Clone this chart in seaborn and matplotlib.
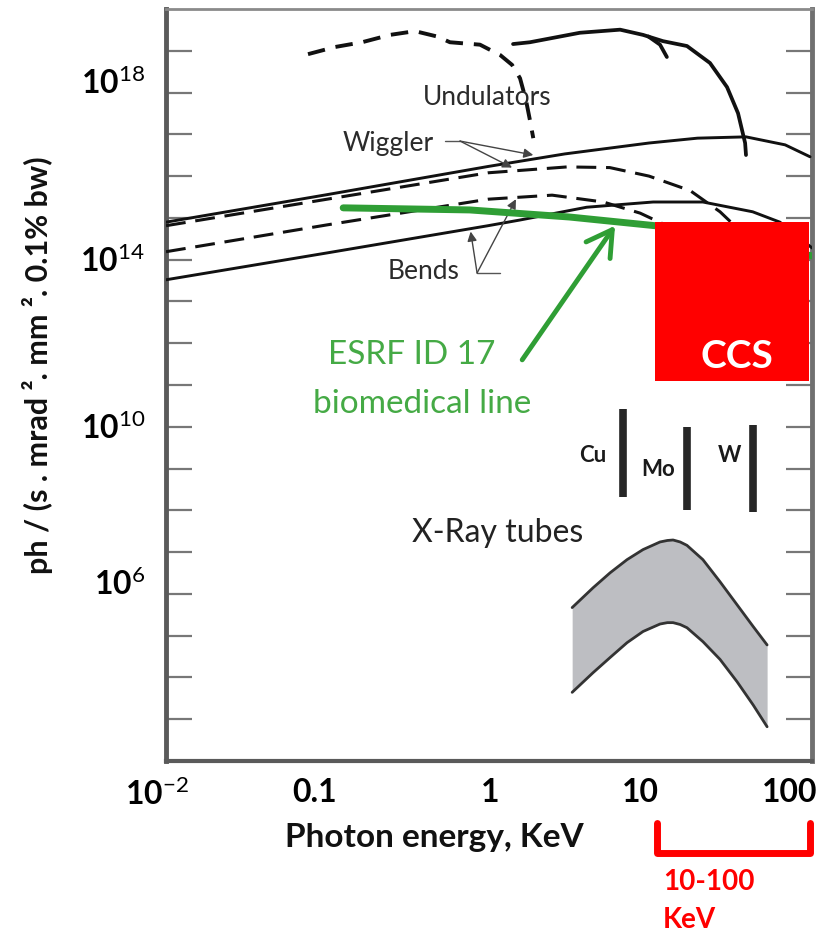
import numpy as np
import pandas as pd
import matplotlib
matplotlib.use("Agg")
import matplotlib.pyplot as plt
import matplotlib.transforms as mtransforms
from matplotlib.patches import Rectangle
from matplotlib.lines import Line2D
from matplotlib.ticker import NullLocator, LogLocator, NullFormatter
import seaborn as sns

# ---------------- spectral brightness curves (photon energy in keV) ----------------
undulator_energy = [1.43, 1.82, 3.72, 6.61, 9.18, 12.2, 17.2, 23.9, 30.5, 35.7, 39.5, 40.0]
undulator_flux = [1.45e19, 1.6e19, 2.7e19, 3.2e19, 2.4e19, 1.7e19, 1.3e19, 5.1e18,
                  1.35e18, 3.2e17, 6.2e16, 3.2e16]

undulator_branch_energy = [9.9, 11.7, 12.9]
undulator_branch_flux = [2.2e19, 1.4e19, 7.1e18]

undulator_low_energy = [0.0762, 0.112, 0.165, 0.246, 0.352, 0.482, 0.580, 0.891,
                        1.19, 1.41, 1.58, 1.72, 1.82, 1.91]
undulator_low_flux = [8.3e18, 1.23e19, 1.6e19, 2.4e19, 2.95e19, 2.2e19, 1.6e19, 1.4e19,
                      7.9e18, 4.6e18, 2.2e18, 6.6e17, 2.2e17, 8.1e16]

wiggler_energy = [0.01, 0.1, 1, 3, 10, 20, 40, 70, 100]
wiggler_flux = [7.9e14, 3.6e15, 1.7e16, 3.4e16, 6.2e16, 8.1e16, 8.7e16, 5.6e16, 2.9e16]

wiggler_low_energy = [0.01, 0.1, 1, 3.1, 5.7, 10, 18, 27.6, 42]
wiggler_low_flux = [6.5e14, 2.8e15, 1.2e16, 1.66e16, 1.6e16, 1.0e16, 4.5e15, 1.4e15, 3.0e14]

bend_energy = [0.01, 0.1, 1, 1.58, 4.1, 10.6, 21.6, 44, 65, 103]
bend_flux = [3.3e13, 1.45e14, 6.5e14, 8.9e14, 1.8e15, 2.4e15, 2.4e15, 1.4e15, 7.9e14, 1.9e14]

bend_low_energy = [0.01, 0.1, 1, 2.5, 5.2, 8.8, 12.6]
bend_low_flux = [1.55e14, 6.8e14, 2.8e15, 3.5e15, 2.4e15, 1.3e15, 6.8e14]

esrf_energy = [0.126, 0.77, 3.2, 10.9, 103]
esrf_flux = [1.74e15, 1.55e15, 1.05e15, 6.5e14, 1.23e14]

# X-ray tube continuum band
tube_energy = [3.33, 4.49, 5.73, 7.30, 9.18, 11.7, 13.0, 14.1, 15.6, 17.2, 21.6, 27.6,
               35.2, 44.3, 54.1]
tube_upper = [4.7e5, 1.4e6, 3.2e6, 6.6e6, 1.15e7, 1.75e7, 1.9e7, 1.95e7, 1.75e7, 1.45e7,
              6.6e6, 1.95e6, 5.5e5, 1.66e5, 6.0e4]
tube_lower = [4.4e3, 1.3e4, 3.0e4, 6.8e4, 1.26e5, 1.9e5, 2.05e5, 2.05e5, 1.85e5, 1.55e5,
              7.2e4, 2.7e4, 7.9e3, 2.2e3, 6.6e2]

# characteristic lines of tube anodes
anode_names = ["Cu", "Mo", "W"]
anode_energy = [6.9, 17.2, 44.3]
anode_flux_low = [2.1e8, 1.0e8, 9.3e7]
anode_flux_high = [2.6e10, 1.0e10, 1.1e10]

# compact Compton source region
ccs_energy_range = (10.9, 98.6)
ccs_flux_range = (1.26e11, 7.9e14)

# axis ticks
x_tick_values = [0.01, 0.1, 1, 10, 100]
x_tick_labels = [r"$\mathbf{10}^{-2}$", "0.1", "1", "10", "100"]
y_tick_values = [10.0 ** k for k in range(3, 20)]
y_labelled = {18: r"$\mathbf{10}^{18}$", 14: r"$\mathbf{10}^{14}$",
              10: r"$\mathbf{10}^{10}$", 6: r"$\mathbf{10}^{6}$"}

# ---------------- style ----------------
sns.set_style("white")
plt.rcParams["font.family"] = ["Lato", "DejaVu Sans"]
plt.rcParams["mathtext.fontset"] = "custom"
plt.rcParams["mathtext.rm"] = "Lato"
plt.rcParams["mathtext.bf"] = "Lato:bold"
plt.rcParams["mathtext.it"] = "Lato:italic"

fig = plt.figure(figsize=(8.26, 9.33), dpi=100)
ax = fig.add_axes([166 / 826, 1 - 761 / 933, (812 - 166) / 826, (761 - 9) / 933])
ax.set_xscale("log")
ax.set_yscale("log")
ax.set_xlim(0.01, 10 ** 2.012)
ax.set_ylim(1e2, 1e20)

black = "#111111"
dash = (0, (6.5, 3.2))


def curve(x, y, lw, ls="-", color=black, z=3):
    df = pd.DataFrame({"E": x, "F": y})
    sns.lineplot(data=df, x="E", y="F", ax=ax, sort=False, estimator=None,
                 color=color, lw=lw, linestyle=ls, zorder=z)


curve(undulator_energy, undulator_flux, 2.7)
curve(undulator_branch_energy, undulator_branch_flux, 2.7)
curve(undulator_low_energy, undulator_low_flux, 2.8, ls=(0, (4.5, 2.8)))
curve(wiggler_energy, wiggler_flux, 2.1)
curve(wiggler_low_energy, wiggler_low_flux, 2.2, ls=dash)
curve(bend_energy, bend_flux, 2.1)
curve(bend_low_energy, bend_low_flux, 2.2, ls=dash)
curve(esrf_energy, esrf_flux, 5.0, color="#2f9e35", z=4)

# X-ray tube band
ax.fill_between(tube_energy, tube_lower, tube_upper, color="#bdbec2", lw=0, zorder=2)
curve(tube_energy, tube_upper, 2.0, color="#333333")
curve(tube_energy, tube_lower, 2.0, color="#333333")

# anode lines
ax.vlines(anode_energy, anode_flux_low, anode_flux_high, color="#262626", lw=5.5, zorder=3)
for name, e, y, dx in zip(anode_names, anode_energy, [2.1e9, 9.3e8, 2.1e9], [4.49, 11.4, 31.8]):
    ax.text(dx, y, name, fontsize=16, fontweight="bold", color="#1a1a1a",
            ha="center", va="center")

# CCS box
ax.add_patch(Rectangle((ccs_energy_range[0], ccs_flux_range[0]),
                       ccs_energy_range[1] - ccs_energy_range[0],
                       ccs_flux_range[1] - ccs_flux_range[0],
                       facecolor="#ff0000", edgecolor="none", zorder=6))
ax.text(35.2, 4.7e11, "CCS", color="white", fontsize=28, fontweight="bold",
        ha="center", va="center", zorder=7)

# source labels and pointers
label_color = "#2b2b2b"
ax.text(0.99, 7.8e17, "Undulators", fontsize=19, color=label_color, ha="center", va="center")
ax.text(0.239, 6.2e16, "Wiggler", fontsize=19, color=label_color, ha="center", va="center")
ax.text(0.40, 5.1e13, "Bends", fontsize=19, color=label_color, ha="center", va="center")

thin = dict(color="#555555", lw=1.0)
ax.plot([0.54, 0.67], [6.9e16, 6.9e16], **thin, zorder=3)
head = dict(arrowstyle="-|>", color="#444444", lw=1.0, mutation_scale=14,
            shrinkA=0, shrinkB=0)
ax.annotate("", xy=(1.91, 3.2e16), xytext=(0.67, 6.9e16), arrowprops=head, zorder=3)
ax.annotate("", xy=(1.41, 1.6e16), xytext=(0.67, 6.9e16), arrowprops=head, zorder=3)

ax.plot([0.855, 1.19], [4.8e13, 4.8e13], **thin, zorder=3)
ax.annotate("", xy=(0.78, 4.7e14), xytext=(0.855, 4.8e13), arrowprops=head, zorder=3)
ax.annotate("", xy=(1.49, 2.8e15), xytext=(0.855, 4.8e13), arrowprops=head, zorder=3)

green_text = "#45aa45"
ax.text(0.337, 5.2e11, "ESRF ID 17", fontsize=24, color=green_text, ha="center", va="center")
ax.text(0.389, 3.5e10, "biomedical line", fontsize=24, color=green_text, ha="center", va="center")
ax.annotate("", xy=(6.15, 6.5e14), xytext=(1.63, 4.0e11),
            arrowprops=dict(arrowstyle="->,head_length=0.6,head_width=0.35",
                            color="#2f9e35", lw=3.5, mutation_scale=30,
                            shrinkA=0, shrinkB=0), zorder=4)

ax.text(1.15, 2.9e7, "X-Ray tubes", fontsize=23, color="#222222", ha="center", va="center")

# ---------------- axes styling ----------------
for side, (lw, col) in {"left": (3.5, "#5a5a5a"), "bottom": (3.0, "#5a5a5a"),
                        "top": (2.0, "#8a8a8a"), "right": (3.5, "#707070")}.items():
    ax.spines[side].set_linewidth(lw)
    ax.spines[side].set_color(col)
    ax.spines[side].set_visible(True)

ax.set_yticks(y_tick_values)
ax.set_yticklabels([y_labelled.get(int(round(np.log10(v))), "") for v in y_tick_values])
ax.yaxis.set_minor_locator(NullLocator())
ax.tick_params(axis="y", which="major", direction="in", length=19, width=1.6,
               color="#777777", left=True, right=True, labelsize=23, pad=15,
               labelcolor="black")

ax.set_xticks(x_tick_values)
ax.set_xticklabels(x_tick_labels)
ax.xaxis.set_minor_locator(LogLocator(base=10, subs=np.arange(2, 10), numticks=20))
ax.xaxis.set_minor_formatter(NullFormatter())
ax.tick_params(axis="x", which="major", direction="in", length=9, width=1.6,
               color="#777777", labelsize=23, pad=12, labelcolor="black")
ax.tick_params(axis="x", which="minor", direction="in", length=4, width=1.3,
               color="#888888")
for lab in ax.get_xticklabels() + ax.get_yticklabels():
    lab.set_fontweight("bold")

# nudge tick labels
x_shift = [-9, -12, 2, -9, -20]
for lab, dx in zip(ax.get_xticklabels(), x_shift):
    lab.set_transform(lab.get_transform() +
                      mtransforms.ScaledTranslation(dx / 100, 0, fig.dpi_scale_trans))
y_shift = {18: 12, 14: 2, 10: 2, 6: 13}
for lab, v in zip(ax.get_yticklabels(), y_tick_values):
    k = int(round(np.log10(v)))
    if k in y_shift:
        lab.set_transform(lab.get_transform() +
                          mtransforms.ScaledTranslation(0, y_shift[k] / 100, fig.dpi_scale_trans))

ax.set_xlabel("Photon energy, KeV", fontsize=24, fontweight="bold", color="#111111")
ax.xaxis.set_label_coords(0.416, -0.083)
ax.set_ylabel("ph / (s . mrad ². mm ². 0.1% bw)", fontsize=22, fontweight="bold",
              color="#111111")
ax.yaxis.set_label_coords(-0.175, 0.527)

# 10-100 keV bracket below the axis
blend = mtransforms.blended_transform_factory(ax.transData, ax.transAxes)
bracket = Line2D([11.2, 11.2, 100, 100], [-0.082, -0.122, -0.122, -0.082],
                 transform=blend, color="#ff0000", lw=5, clip_on=False,
                 solid_joinstyle="round", solid_capstyle="round")
ax.add_line(bracket)
ax.text(12.2, -0.161, "10-100", transform=blend, color="#ff0000", fontsize=20,
        fontweight="bold", ha="left", va="center")
ax.text(12.2, -0.211, "KeV", transform=blend, color="#ff0000", fontsize=20,
        fontweight="bold", ha="left", va="center")

fig.savefig("out.png", dpi=100)
